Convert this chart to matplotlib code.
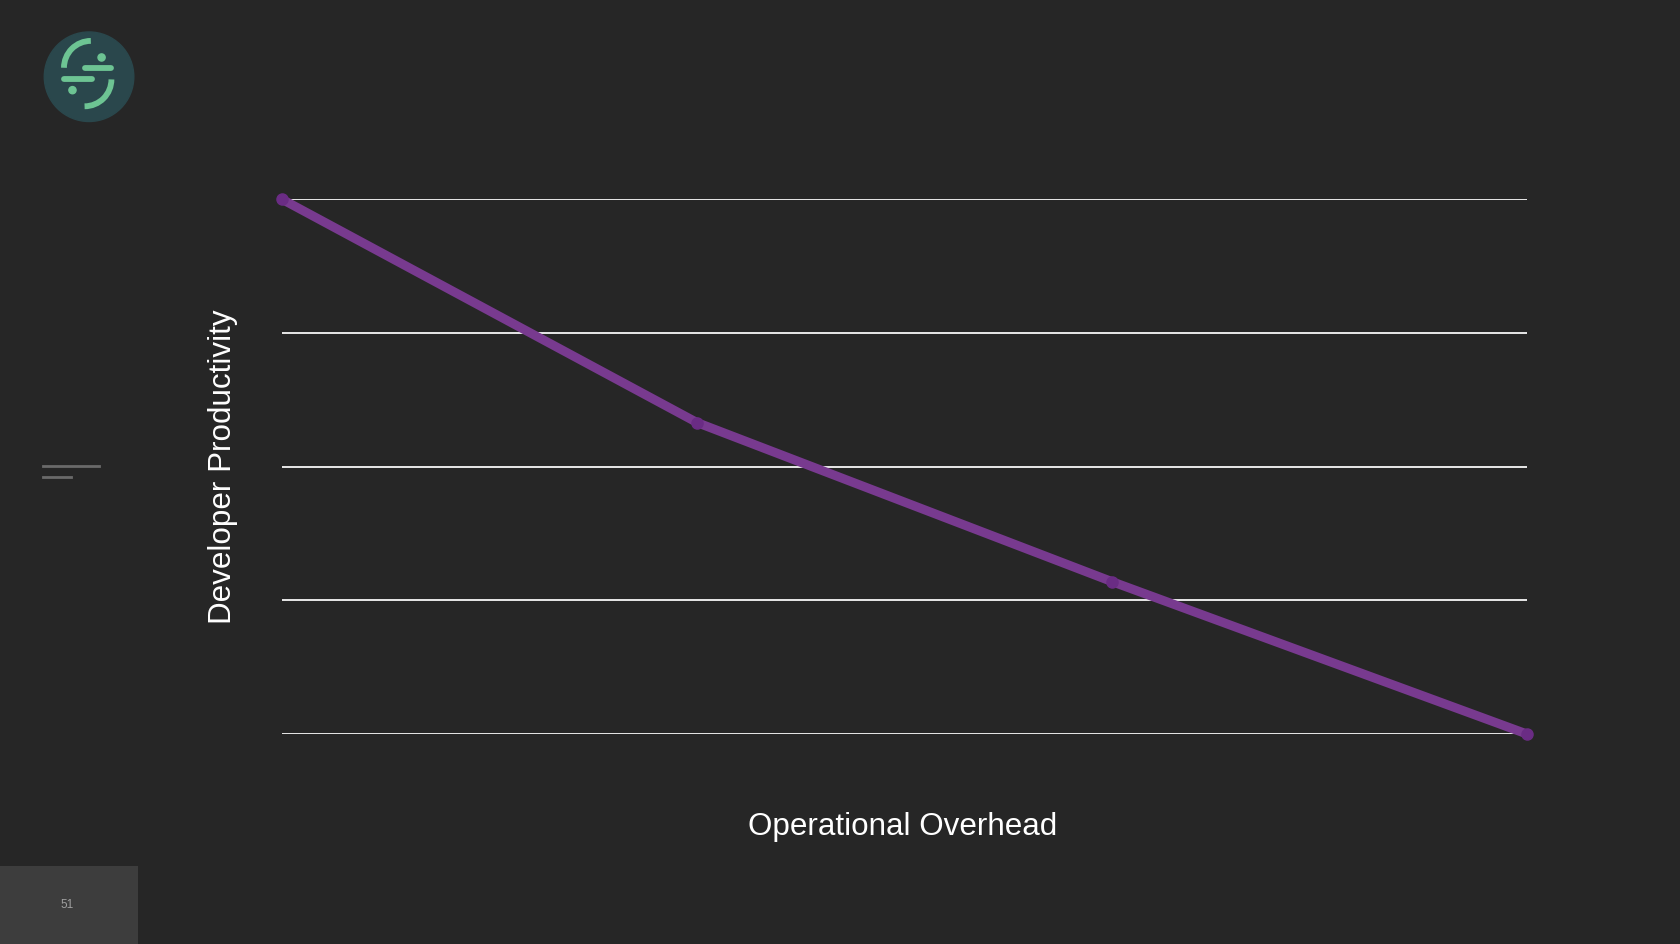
import matplotlib.pyplot as plt
from matplotlib.patches import Circle, Arc, Rectangle
from matplotlib.lines import Line2D

# chart data
overhead = [0, 1, 2, 3]
productivity = [4.0, 2.33, 1.14, 0.0]
grid_levels = [0, 1, 2, 3, 4]
page_number = "51"

bg = '#262626'
purple = '#783a8f'
marker_purple = '#6a2c84'

plt.rcParams['font.family'] = ['Liberation Sans', 'DejaVu Sans']

fig = plt.figure(figsize=(16.8, 9.45), dpi=100)
fig.patch.set_facecolor(bg)

# main chart
ax = fig.add_axes([0.1679, 0.2222, 0.7410, 0.5658])
ax.set_facecolor(bg)
ax.set_xlim(0, 3)
ax.set_ylim(0, 4)
ax.set_yticks(grid_levels)
ax.set_xticks([])
ax.grid(True, axis='y', color='#e8e8e8', linewidth=1.4)
ax.tick_params(left=False, labelleft=False)
for s in ax.spines.values():
    s.set_visible(False)

ax.plot(overhead, productivity, color=purple, linewidth=6.5, solid_capstyle='round',
        clip_on=False, zorder=3)
ax.plot(overhead, productivity, 'o', color=marker_purple, markersize=8,
        clip_on=False, zorder=4)

fig.text(0.1329, 0.506, 'Developer Productivity', rotation=90, color='white',
         fontsize=22.6, ha='center', va='center')
fig.text(0.537, 0.1245, 'Operational Overhead', color='white',
         fontsize=22.6, ha='center', va='center')

# logo
lax = fig.add_axes([0.0250, 0.8680, 0.0560, 0.0995])
lax.set_xlim(-1.05, 1.05)
lax.set_ylim(-1.05, 1.05)
lax.set_aspect('equal')
lax.axis('off')
green = '#6dc493'
lw = 4.2
lax.add_patch(Circle((0, 0), 1.0, color='#2a474c'))
lax.add_patch(Arc((0.04, 0.20), 1.20, 1.20, theta1=90, theta2=180, color=green, linewidth=lw))
lax.add_patch(Arc((-0.10, -0.06), 1.20, 1.20, theta1=270, theta2=360, color=green, linewidth=lw))
lax.add_line(Line2D([-0.10, 0.48], [0.20, 0.20], color=green, linewidth=lw, solid_capstyle='round'))
lax.add_line(Line2D([-0.55, 0.06], [-0.06, -0.06], color=green, linewidth=lw, solid_capstyle='round'))
lax.add_patch(Circle((0.28, 0.43), 0.08, color=green))
lax.add_patch(Circle((-0.37, -0.30), 0.08, color=green))

# side marks
fig.add_artist(Line2D([43 / 1680, 99 / 1680], [1 - 467 / 945, 1 - 467 / 945],
                      color='#6a6a6a', linewidth=2))
fig.add_artist(Line2D([43 / 1680, 71 / 1680], [1 - 478 / 945, 1 - 478 / 945],
                      color='#6a6a6a', linewidth=2))

# page number box
fig.add_artist(Rectangle((0, 0), 138 / 1680, 78 / 945, transform=fig.transFigure,
                         facecolor='#3d3d3d', edgecolor='none'))
fig.text(67 / 1680, 1 - 905 / 945, page_number, color='#a0a0a0', fontsize=8.5,
         ha='center', va='center')

fig.savefig('out.png', dpi=100, facecolor=bg)
